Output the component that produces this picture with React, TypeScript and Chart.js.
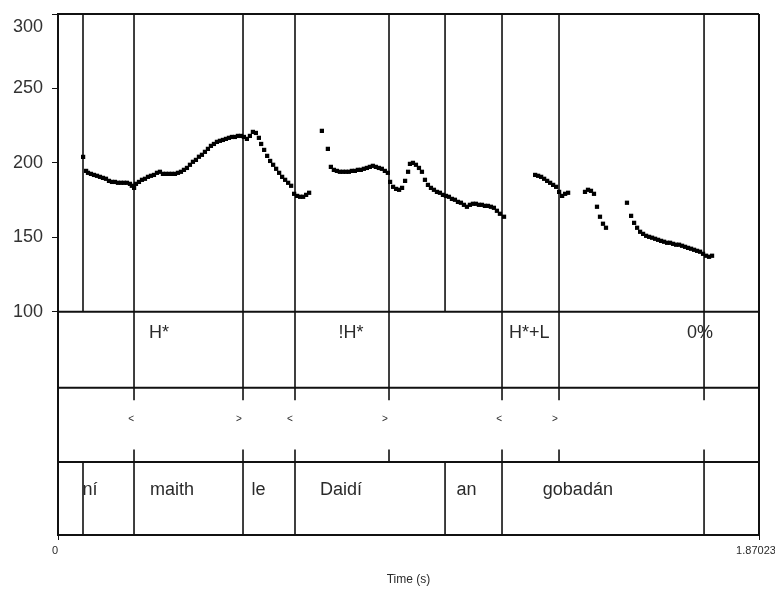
import { useEffect, useRef } from 'react';
import { Chart, registerables } from 'chart.js';

Chart.register(...registerables);

// ---- data ----
const DURATION = 1.87023;
const xTicks = [0, DURATION];
const yTicks = [100, 150, 200, 250, 300];

// F0 samples [time (s), Hz], one array per voiced stretch
const voicedA: [number, number][] = [
  [0.067, 204], [0.075, 194.6], [0.080, 193.3], [0.088, 192.6], [0.096, 191.9], [0.104, 191.3],
  [0.112, 190.6], [0.120, 189.9], [0.128, 189.3], [0.136, 187.9], [0.144, 187.2], [0.152, 187.2],
  [0.160, 186.6], [0.168, 186.6], [0.176, 186.6], [0.184, 186.6], [0.192, 185.9], [0.197, 184.6],
  [0.203, 183.2], [0.208, 185.9], [0.216, 187.2], [0.224, 188.6], [0.232, 189.3], [0.240, 190.6],
  [0.248, 191.3], [0.256, 191.9], [0.264, 193.3], [0.272, 194.0], [0.280, 192.6], [0.288, 192.6],
  [0.296, 192.6], [0.304, 192.6], [0.312, 192.6], [0.320, 193.3], [0.328, 194.0], [0.336, 195.3],
  [0.344, 196.6], [0.352, 198.7], [0.360, 200.7], [0.368, 202.0], [0.376, 204.1], [0.384, 205.4],
  [0.392, 207.4], [0.400, 209.4], [0.408, 211.4], [0.416, 212.7], [0.424, 214.1], [0.432, 214.8],
  [0.440, 215.4], [0.448, 216.1], [0.456, 216.8], [0.464, 217.4], [0.472, 217.4], [0.480, 218.1],
  [0.488, 218.1], [0.496, 217.4], [0.504, 216.1], [0.512, 218.1], [0.520, 220.8], [0.528, 220.1],
  [0.536, 216.8], [0.542, 212.7], [0.550, 208.7], [0.558, 204.7], [0.566, 201.3], [0.574, 198.7],
  [0.582, 196.0], [0.590, 193.3], [0.598, 190.6], [0.606, 188.6], [0.614, 186.6], [0.622, 184.6],
  [0.630, 179.2], [0.638, 177.8], [0.646, 177.2], [0.654, 177.2], [0.662, 178.5], [0.670, 179.9],
];
const voicedB: [number, number][] = [
  [0.704, 221.5], [0.720, 209.4], [0.728, 197.3], [0.736, 195.3], [0.744, 194.6], [0.752, 194.0],
  [0.760, 194.0], [0.768, 194.0], [0.776, 194.0], [0.784, 194.6], [0.792, 194.6], [0.800, 195.3],
  [0.808, 195.3], [0.816, 196.0], [0.824, 196.6], [0.832, 197.3], [0.840, 198.0], [0.848, 197.3],
  [0.856, 196.6], [0.864, 196.0], [0.872, 194.6], [0.880, 193.3], [0.886, 187.2], [0.894, 183.9],
  [0.902, 182.5], [0.910, 181.9], [0.918, 183.2], [0.926, 187.9], [0.934, 194.0], [0.939, 199.3],
  [0.947, 200.0], [0.955, 198.7], [0.963, 196.6], [0.971, 194.0], [0.979, 188.6], [0.987, 185.2],
  [0.995, 183.2], [1.003, 181.9], [1.011, 180.5], [1.019, 179.9], [1.027, 178.5], [1.035, 177.8],
  [1.043, 177.2], [1.051, 175.8], [1.059, 175.2], [1.067, 173.8], [1.075, 173.2], [1.083, 171.8],
  [1.091, 170.5], [1.099, 171.8], [1.107, 172.5], [1.115, 172.5], [1.123, 171.8], [1.131, 171.8],
  [1.139, 171.1], [1.147, 171.1], [1.155, 170.5], [1.163, 169.8], [1.171, 167.8], [1.179, 165.8],
  [1.190, 163.8],
];
const voicedC: [number, number][] = [
  [1.273, 191.9], [1.281, 191.3], [1.289, 190.6], [1.297, 189.3], [1.305, 187.9], [1.313, 186.6],
  [1.321, 185.2], [1.329, 183.9], [1.337, 180.5], [1.345, 177.8], [1.353, 179.2], [1.361, 179.9],
];
const voicedD: [number, number][] = [
  [1.406, 180.5], [1.414, 181.9], [1.422, 181.2], [1.430, 179.2], [1.438, 170.5], [1.446, 163.8],
  [1.454, 159.1], [1.462, 156.4],
];
const voicedE: [number, number][] = [
  [1.518, 173.2], [1.529, 164.4], [1.537, 159.7], [1.545, 156.4], [1.553, 153.7], [1.561, 152.3],
  [1.569, 151.0], [1.577, 150.3], [1.585, 149.7], [1.593, 149.0], [1.601, 148.3], [1.609, 147.6],
  [1.617, 147.0], [1.625, 146.3], [1.633, 146.3], [1.641, 145.6], [1.649, 145.0], [1.657, 145.0],
  [1.665, 144.3], [1.673, 143.6], [1.681, 142.9], [1.689, 142.3], [1.697, 141.6], [1.705, 140.9],
  [1.713, 140.3], [1.721, 138.9], [1.729, 137.6], [1.737, 136.9], [1.745, 137.6],
];

// boundaries (s)
const pitchBoundaries = [0.0667, 0.2028, 0.4936, 0.6323, 0.8831, 1.0326, 1.1846, 1.3367, 1.7236];
const toneBoundaries = [0.2028, 0.4936, 0.6323, 0.8831, 1.1846, 1.3367, 1.7236];
const breakBoundaries = [0.2028, 0.4936, 0.6323, 0.8831, 1.1846, 1.3367, 1.7236];
const wordBoundaries = [0.0667, 0.2028, 0.4936, 0.6323, 1.0326, 1.1846, 1.7236];

// tier labels
const toneLabels = ['H*', '!H*', 'H*+L', '0%'];
const toneTimes = [0.2695, 0.782, 1.257, 1.713];
const breakLabels = ['<', '>', '<', '>', '<', '>'];
const breakTimes = [0.195, 0.483, 0.619, 0.872, 1.177, 1.326];
const wordLabels = ['ní', 'maith', 'le', 'Daidí', 'an', 'gobadán'];
const wordTimes = [0.0854, 0.304, 0.535, 0.755, 1.09, 1.387];

// ---- layout constants (value space of the y scale) ----
const Y_MIN = -50;
const Y_MAX = 300;
const TIER_EDGES = [100, 49, -1, -50];
const BREAK_TICK = 8.5;
const TONE_Y = 86;
const BREAK_Y = 27.5;
const WORD_Y = -20;

const FONT = '"Liberation Sans", Arial, sans-serif';
const INK = '#111';
const TEXT = '#2a2a2a';

type P = { x: number; y: number | null };

function vSegments(times: number[], from: number, to: number): P[] {
  const pts: P[] = [];
  times.forEach((t) => {
    pts.push({ x: t, y: from }, { x: t, y: to }, { x: t, y: null });
  });
  return pts;
}

function hSegments(levels: number[], x0: number, x1: number): P[] {
  const pts: P[] = [];
  levels.forEach((v) => {
    pts.push({ x: x0, y: v }, { x: x1, y: v }, { x: x1, y: null });
  });
  return pts;
}

const lineDs = (data: P[], width: number) => ({
  data,
  showLine: true,
  spanGaps: false,
  borderColor: INK,
  borderWidth: width,
  pointRadius: 0,
  clip: false as const,
});

const tierText = {
  id: 'tierText',
  afterDatasetsDraw(chart: any) {
    const { ctx } = chart;
    const x = chart.scales.x;
    const y = chart.scales.y;
    ctx.save();
    ctx.fillStyle = TEXT;
    ctx.textAlign = 'center';
    ctx.textBaseline = 'middle';
    ctx.font = `18px ${FONT}`;
    toneLabels.forEach((s, i) => ctx.fillText(s, x.getPixelForValue(toneTimes[i]), y.getPixelForValue(TONE_Y)));
    wordLabels.forEach((s, i) => ctx.fillText(s, x.getPixelForValue(wordTimes[i]), y.getPixelForValue(WORD_Y)));
    ctx.font = `10px ${FONT}`;
    breakLabels.forEach((s, i) => ctx.fillText(s, x.getPixelForValue(breakTimes[i]), y.getPixelForValue(BREAK_Y)));
    ctx.restore();
  },
};

export default function App() {
  const ref = useRef<HTMLCanvasElement | null>(null);

  useEffect(() => {
    if (!ref.current) return;
    const pitch = [...voicedA, ...voicedB, ...voicedC, ...voicedD, ...voicedE].map(([t, f]) => ({ x: t, y: f }));

    const chart = new Chart(ref.current, {
      type: 'scatter',
      data: {
        datasets: [
          {
            data: pitch,
            pointStyle: 'rect',
            pointRadius: 3,
            pointBorderWidth: 0,
            backgroundColor: '#000',
            borderColor: '#000',
            showLine: false,
          } as any,
          lineDs(vSegments(pitchBoundaries, TIER_EDGES[0], Y_MAX), 1.6),
          lineDs(vSegments(toneBoundaries, TIER_EDGES[1], TIER_EDGES[0]), 1.6),
          lineDs(vSegments(breakBoundaries, TIER_EDGES[1], TIER_EDGES[1] - BREAK_TICK), 1.6),
          lineDs(vSegments(breakBoundaries, TIER_EDGES[2], TIER_EDGES[2] + BREAK_TICK), 1.6),
          lineDs(vSegments(wordBoundaries, TIER_EDGES[3], TIER_EDGES[2]), 1.6),
          lineDs(hSegments([TIER_EDGES[0], TIER_EDGES[1], TIER_EDGES[2], Y_MAX], 0, DURATION), 2),
          lineDs(vSegments([DURATION], Y_MIN, Y_MAX), 2),
        ] as any,
      },
      options: {
        animation: false,
        responsive: false,
        events: [],
        layout: { padding: { top: 14, right: 16, left: 0, bottom: 0 } },
        plugins: {
          legend: { display: false },
          tooltip: { enabled: false },
        },
        scales: {
          x: {
            type: 'linear',
            min: 0,
            max: DURATION,
            afterBuildTicks: (s: any) => {
              s.ticks = xTicks.map((v) => ({ value: v }));
            },
            afterFit: (s: any) => {
              s.height = 57;
              s.paddingLeft = 0;
              s.paddingRight = 0;
            },
            ticks: {
              autoSkip: false,
              maxRotation: 0,
              padding: 4,
              labelOffset: -3,
              color: TEXT,
              font: { family: FONT, size: 11 },
              callback: (v: any) => String(v),
            },
            grid: { drawOnChartArea: false, drawTicks: true, tickLength: 5, color: INK, lineWidth: 1 },
            border: { display: true, color: INK, width: 2 },
            title: {
              display: true,
              text: 'Time (s)',
              color: TEXT,
              font: { family: FONT, size: 12 },
              padding: { top: 0, bottom: 5 },
            },
          },
          y: {
            type: 'linear',
            min: Y_MIN,
            max: Y_MAX,
            afterBuildTicks: (s: any) => {
              s.ticks = yTicks.map((v) => ({ value: v }));
            },
            afterFit: (s: any) => {
              s.width = 58;
              s.paddingTop = 0;
              s.paddingBottom = 0;
            },
            ticks: {
              autoSkip: false,
              padding: 9,
              color: '#333',
              font: { family: FONT, size: 18, lineHeight: 1.4 },
              callback: (v: any) => (v === Y_MAX ? ['', String(v)] : String(v)),
            },
            grid: { drawOnChartArea: false, drawTicks: true, tickLength: 6, color: INK, lineWidth: 1 },
            border: { display: true, color: INK, width: 2 },
          },
        },
      },
      plugins: [tierText],
    } as any);

    return () => chart.destroy();
  }, []);

  return (
    <div style={{ position: 'fixed', left: 0, top: 0, width: 775, height: 592, background: '#fff' }}>
      <canvas ref={ref} width={775} height={592} style={{ display: 'block' }} />
    </div>
  );
}
